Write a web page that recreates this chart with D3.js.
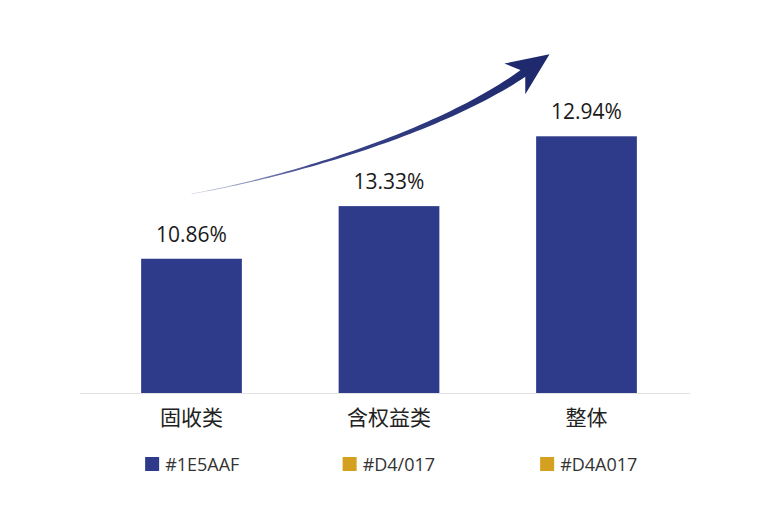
<!DOCTYPE html>
<html>
<head>
<meta charset="utf-8">
<script src="https://cdn.jsdelivr.net/npm/d3@7"></script>
<style>
  html, body { margin: 0; padding: 0; background: #ffffff; }
  svg { display: block; }
</style>
</head>
<body>
<svg id="chart" width="768" height="512"></svg>
<script>
// ---- data ----
const categories = ["固收类", "含权益类", "整体"];
// bar lengths as drawn in the picture (relative units, tallest = 10)
const barLengths = [5.23, 7.28, 10.0];
// value labels printed above the bars
const valueLabels = ["10.86%", "13.33%", "12.94%"];
// legend entries
const legendLabels = ["#1E5AAF", "#D4/017", "#D4A017"];
const legendColors = ["#2E3B8A", "#D4A020", "#D4A020"];

const barColor = "#2E3B8A";
const arrowColor = "#1F2A6E";

const svg = d3.select("#chart");

const x = d3.scaleBand()
  .domain(categories)
  .range([92.75, 685.25])
  .paddingInner(0.49)
  .paddingOuter(0.245);

const y = d3.scaleLinear()
  .domain([0, 10])
  .range([393, 136.3]);

// baseline
svg.append("line")
  .attr("x1", 80).attr("x2", 690)
  .attr("y1", y(0) + 0.5).attr("y2", y(0) + 0.5)
  .attr("stroke", "#e3e3e6").attr("stroke-width", 1);

// bars
svg.append("g").selectAll("rect")
  .data(barLengths)
  .join("rect")
  .attr("x", (d, i) => x(categories[i]))
  .attr("y", d => y(d))
  .attr("width", x.bandwidth())
  .attr("height", d => y(0) - y(d))
  .attr("fill", barColor);

// value labels
svg.append("g").selectAll("text")
  .data(barLengths)
  .join("text")
  .attr("x", (d, i) => x(categories[i]) + x.bandwidth() / 2)
  .attr("y", d => y(d) - 17)
  .attr("text-anchor", "middle")
  .attr("font-family", "'Open Sans', 'Noto Sans', sans-serif")
  .attr("font-size", 21)
  .attr("fill", "#1a1a1a")
  .text((d, i) => valueLabels[i]);

// category axis labels
const xAxis = d3.axisBottom(x).tickSize(0).tickPadding(0);
const gx = svg.append("g")
  .attr("transform", `translate(0,${y(0)})`)
  .call(xAxis);
gx.select(".domain").remove();
gx.selectAll("text")
  .attr("dy", null)
  .attr("y", 32)
  .attr("font-family", "'Noto Sans CJK SC', sans-serif")
  .attr("font-size", 21)
  .attr("fill", "#222");

// legend
const lg = svg.append("g").selectAll("g")
  .data(legendLabels)
  .join("g")
  .attr("transform", (d, i) => `translate(${x(categories[i]) + 4},457)`);
lg.append("rect")
  .attr("width", 14).attr("height", 14)
  .attr("fill", (d, i) => legendColors[i]);
lg.append("text")
  .attr("x", 20).attr("y", 13.5)
  .attr("font-family", "'Open Sans', 'Noto Sans', sans-serif")
  .attr("font-size", 18)
  .attr("fill", "#333")
  .text(d => d);

// decorative growth arrow
const cx0 = x(categories[0]) + x.bandwidth() / 2;
const cx2 = x(categories[2]) + x.bandwidth() / 2;
const P0 = [cx0, y(barLengths[0]) - 65];
const tip = [cx2 - 37, y(barLengths[2]) - 82];
const ang = -36 * Math.PI / 180;
const u = [Math.cos(ang), Math.sin(ang)];
const n = [-u[1], u[0]]; // normal
const P3 = [tip[0] - 25 * u[0], tip[1] - 25 * u[1]];
const C1 = [P0[0] + 88, P0[1] - 15];
const C2 = [P3[0] - 110 * u[0], P3[1] - 110 * u[1]];

function bez(t) {
  const a = (1 - t) ** 3, b = 3 * (1 - t) ** 2 * t, c = 3 * (1 - t) * t * t, d = t ** 3;
  return [a * P0[0] + b * C1[0] + c * C2[0] + d * P3[0],
          a * P0[1] + b * C1[1] + c * C2[1] + d * P3[1]];
}
function deriv(t) {
  const a = 3 * (1 - t) ** 2, b = 6 * (1 - t) * t, c = 3 * t * t;
  return [a * (C1[0] - P0[0]) + b * (C2[0] - C1[0]) + c * (P3[0] - C2[0]),
          a * (C1[1] - P0[1]) + b * (C2[1] - C1[1]) + c * (P3[1] - C2[1])];
}
const N = 60;
const left = [], right = [];
for (let i = 0; i <= N; i++) {
  const t = i / N;
  const p = bez(t), dv = deriv(t);
  const L = Math.hypot(dv[0], dv[1]);
  const nn = [-dv[1] / L, dv[0] / L];
  const hw = 0.25 + 4.0 * Math.pow(t, 1.6);
  left.push([p[0] + nn[0] * hw, p[1] + nn[1] * hw]);
  right.push([p[0] - nn[0] * hw, p[1] - nn[1] * hw]);
}
const shaft = left.concat(right.reverse());

const defs = svg.append("defs");
const grad = defs.append("linearGradient")
  .attr("id", "arrowGrad")
  .attr("gradientUnits", "userSpaceOnUse")
  .attr("x1", P0[0]).attr("y1", P0[1])
  .attr("x2", P3[0]).attr("y2", P3[1]);
grad.append("stop").attr("offset", 0).attr("stop-color", "#c9cce0");
grad.append("stop").attr("offset", 0.35).attr("stop-color", "#39448a");
grad.append("stop").attr("offset", 1).attr("stop-color", arrowColor);

svg.append("path")
  .attr("d", d3.line()(shaft) + "Z")
  .attr("fill", "url(#arrowGrad)");

const head = [
  tip,
  [tip[0] - 42 * u[0] - 19 * n[0], tip[1] - 42 * u[1] - 19 * n[1]],
  [tip[0] - 30 * u[0], tip[1] - 30 * u[1]],
  [tip[0] - 43 * u[0] + 18 * n[0], tip[1] - 43 * u[1] + 18 * n[1]]
];
svg.append("path")
  .attr("d", d3.line()(head) + "Z")
  .attr("fill", arrowColor);
</script>
</body>
</html>
